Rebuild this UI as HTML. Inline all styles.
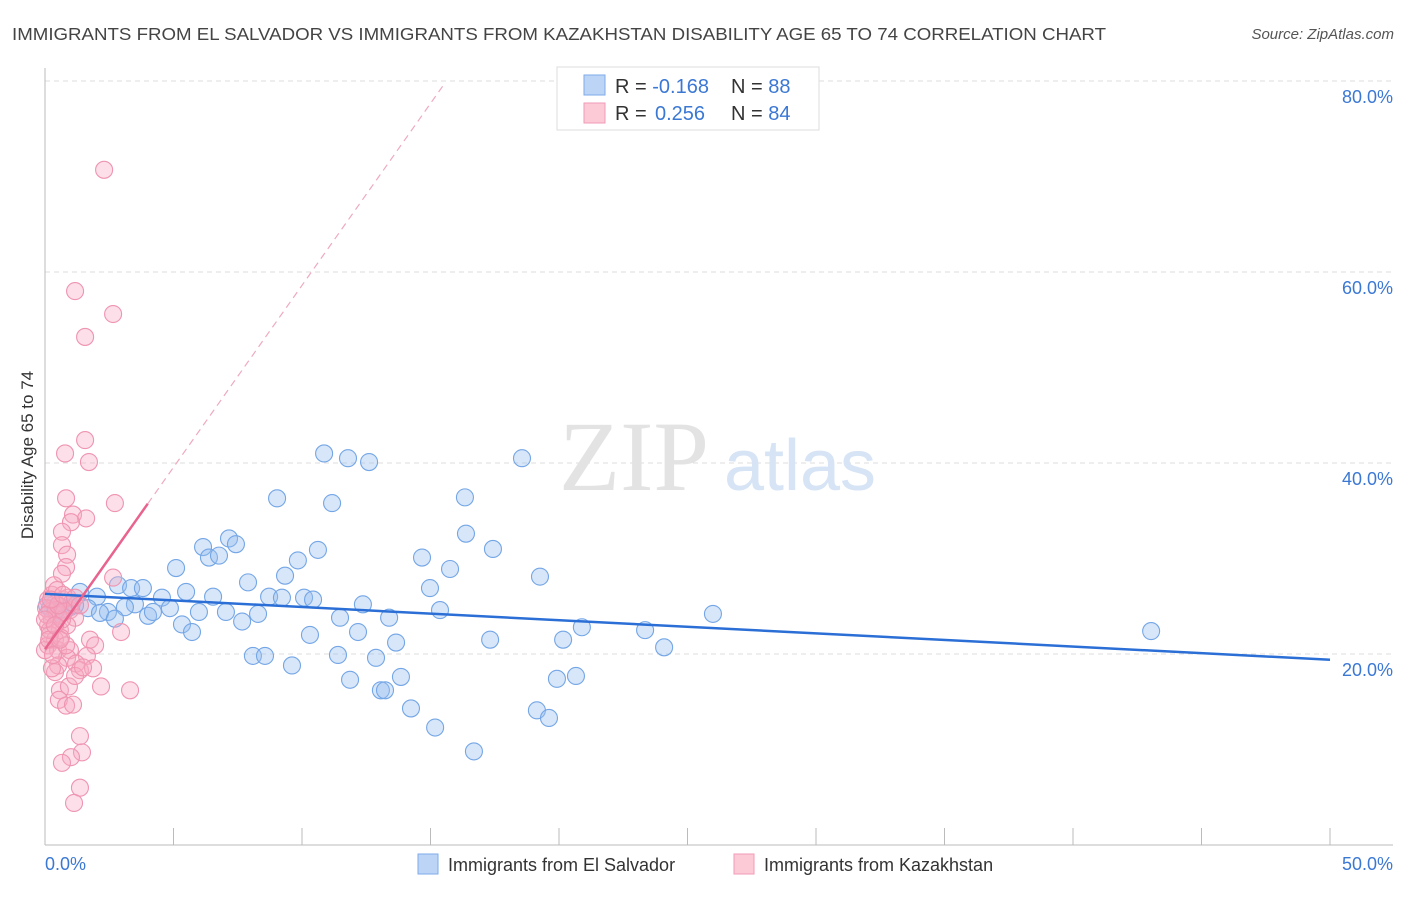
<!DOCTYPE html>
<html><head><meta charset="utf-8"><style>
body{margin:0;background:#fff;font-family:"Liberation Sans",sans-serif;}
</style></head><body>
<svg id="c" width="1406" height="892" xmlns="http://www.w3.org/2000/svg" style="font-family:'Liberation Sans',sans-serif">
<text x="12" y="40" font-size="17.5" fill="#444" textLength="1094" lengthAdjust="spacingAndGlyphs">IMMIGRANTS FROM EL SALVADOR VS IMMIGRANTS FROM KAZAKHSTAN DISABILITY AGE 65 TO 74 CORRELATION CHART</text>
<text x="1394" y="39" font-size="15" fill="#555" font-style="italic" text-anchor="end">Source: ZipAtlas.com</text>
<g id="grid"></g>
<g>
<text x="634" y="490" font-size="100" fill="#e3e3e3" font-family="Liberation Serif,serif" text-anchor="middle">ZIP</text>
<text x="800" y="490" font-size="72" fill="#d6e4f5" text-anchor="middle">atlas</text>
</g>
<g id="pts"></g>
<g id="lines"></g>
<text transform="translate(33,455) rotate(-90)" font-size="17" fill="#333" text-anchor="middle">Disability Age 65 to 74</text>
<text x="45" y="870" font-size="18" fill="#3b78d4">0.0%</text>
<text x="1393" y="870" font-size="18" fill="#3b78d4" text-anchor="end">50.0%</text>
<g>
<rect x="557" y="67" width="262" height="63" fill="#fff" stroke="#ddd"/>
<rect x="584" y="75" width="21" height="20" fill="#bcd5f7" stroke="#7eaae8"/>
<rect x="584" y="103" width="21" height="20" fill="#fcc9d7" stroke="#f09ab4"/>
<text x="615" y="93" font-size="20" fill="#333">R = <tspan fill="#3b78d4">-0.168</tspan><tspan x="731">N = </tspan><tspan fill="#3b78d4">88</tspan></text>
<text x="615" y="120" font-size="20" fill="#333">R = <tspan x="655" fill="#3b78d4">0.256</tspan><tspan x="731">N = </tspan><tspan fill="#3b78d4">84</tspan></text>
</g>
<g>
<rect x="418" y="854" width="20" height="20" fill="#bcd5f7" stroke="#7eaae8"/>
<text x="448" y="871" font-size="18" fill="#333">Immigrants from El Salvador</text>
<rect x="734" y="854" width="20" height="20" fill="#fcc9d7" stroke="#f09ab4"/>
<text x="764" y="871" font-size="18" fill="#333">Immigrants from Kazakhstan</text>
</g>
</svg>
<script>
const yTicks=[20,40,60,80];
const xTickCount=10;
const blue=[[10.86,41.0],[11.79,40.5],[12.61,40.1],[18.56,40.5],[9.03,36.3],[11.17,35.8],[16.34,36.4],[16.38,32.6],[17.43,31.0],[7.16,32.1],[7.43,31.5],[6.15,31.2],[6.38,30.1],[6.77,30.3],[10.62,30.9],[9.84,29.8],[14.67,30.1],[15.76,28.9],[19.26,28.1],[5.10,29.0],[9.34,28.2],[7.90,27.5],[2.84,27.2],[3.35,26.9],[3.81,26.9],[5.49,26.5],[1.36,26.5],[2.02,26.0],[6.54,26.0],[8.72,26.0],[9.22,25.9],[10.08,25.9],[10.43,25.7],[14.98,26.9],[4.55,25.9],[3.50,25.2],[3.11,24.9],[2.45,24.4],[1.67,24.8],[2.14,24.3],[2.72,23.7],[4.01,24.0],[4.20,24.4],[4.86,24.8],[5.99,24.4],[7.04,24.4],[8.29,24.2],[11.48,23.8],[13.39,23.8],[12.37,25.2],[15.37,24.6],[25.99,24.2],[5.33,23.1],[5.72,22.3],[7.67,23.4],[10.31,22.0],[12.18,22.3],[13.66,21.2],[17.32,21.5],[20.16,21.5],[20.89,22.8],[23.35,22.5],[24.09,20.7],[43.04,22.4],[8.09,19.8],[8.56,19.8],[9.61,18.8],[11.40,19.9],[12.88,19.6],[11.87,17.3],[13.07,16.2],[13.23,16.2],[13.85,17.6],[14.24,14.3],[15.18,12.3],[16.69,9.8],[19.14,14.1],[19.61,13.3],[19.92,17.4],[20.66,17.7],[0.58,25.0],[0.97,24.9],[0.19,24.8],[0.39,24.4],[0.78,24.6],[1.17,25.1],[0.51,24.0],[0.08,25.1]];
const pink=[[2.30,70.7],[1.17,58.0],[2.65,55.6],[1.56,53.2],[1.56,42.4],[0.78,41.0],[1.71,40.1],[0.82,36.3],[2.72,35.8],[1.09,34.6],[1.60,34.2],[1.01,33.8],[0.66,32.8],[0.66,31.4],[0.86,30.4],[0.82,29.1],[0.66,28.4],[2.65,28.0],[2.96,22.3],[0.70,25.7],[0.39,25.3],[0.97,24.6],[0.19,24.4],[0.51,24.1],[1.17,23.8],[0.27,23.6],[0.12,23.0],[0.58,22.5],[0.86,23.0],[0.19,22.0],[0.39,21.5],[0.12,20.9],[0.51,20.4],[0.97,20.4],[1.75,21.5],[1.95,20.9],[0.86,19.6],[1.63,19.8],[1.21,19.0],[1.36,18.3],[0.51,18.8],[0.39,18.1],[0.27,18.5],[1.87,18.5],[0.58,16.2],[0.93,16.6],[1.17,17.7],[1.48,18.6],[2.18,16.6],[3.31,16.2],[0.54,15.2],[0.82,14.6],[1.09,14.7],[1.36,11.4],[1.44,9.7],[1.01,9.2],[0.66,8.6],[1.36,6.0],[1.13,4.4],[0.12,25.7],[0.27,26.2],[0.04,24.8],[0.19,22.5],[0.0,20.4],[0.43,24.6],[0.66,23.6],[0.35,27.2],[0.47,26.7],[0.74,24.4],[0.89,25.9],[1.05,25.4],[0.16,21.5],[0.31,19.9],[0.62,21.7],[0.82,20.9],[0.08,24.1],[0.51,25.1],[0.23,25.7],[0.70,26.2],[0.0,23.6],[0.39,23.0],[0.58,21.5],[1.17,25.9],[1.36,25.1]];
const blueTrend=[26.3,19.4];
const pinkTrend=[20.5,3.81];
const pinkSolidEnd=4.0, pinkDashEnd=15.5;
const NS='http://www.w3.org/2000/svg';
const X=v=>45+v/50*1285;
const Y=v=>845-v/20*191;
function mk(tag,attrs,parent){const e=document.createElementNS(NS,tag);for(const k in attrs)e.setAttribute(k,attrs[k]);parent.appendChild(e);return e;}
const grid=document.getElementById('grid');
yTicks.forEach(t=>{
 const l=mk('line',{x1:45,x2:1393,y1:Y(t),y2:Y(t),stroke:'#ddd','stroke-dasharray':'5,4'},grid);
 
 
 const tx=mk('text',{x:1393,y:Y(t)+22,'font-size':18,fill:'#3b78d4','text-anchor':'end'},grid);
 tx.textContent=t.toFixed(1)+'%';
 
 
});
const ax=mk('line',{x1:45,x2:45,y1:68,y2:845,stroke:'#bbb'},grid);


const bx=mk('line',{x1:45,x2:1393,y1:845,y2:845,stroke:'#bbb'},grid);


for(let i=0;i<=xTickCount;i++){
 const t=mk('line',{x1:X(i*5),x2:X(i*5),y1:828,y2:845,stroke:'#bbb'},grid);
 
 
}
const pts=document.getElementById('pts');
blue.forEach(p=>{
 const c=mk('circle',{cx:X(p[0]),cy:Y(p[1]),r:8.5,fill:'rgba(150,190,240,0.38)',stroke:'#74a6e6','stroke-width':1.1},pts);
 
 
});
pink.forEach(p=>{
 const c=mk('circle',{cx:X(p[0]),cy:Y(p[1]),r:8.5,fill:'rgba(248,170,195,0.38)',stroke:'#ef94b1','stroke-width':1.1},pts);
 
 
});
const lines=document.getElementById('lines');
const bl=mk('line',{x1:X(0),y1:Y(blueTrend[0]),x2:X(50),y2:Y(blueTrend[1]),stroke:'#2b6fd6','stroke-width':2.5},lines);


const pf=x=>pinkTrend[0]+pinkTrend[1]*x;
const ps=mk('line',{x1:X(0),y1:Y(pf(0)),x2:X(pinkSolidEnd),y2:Y(pf(pinkSolidEnd)),stroke:'#e8638e','stroke-width':2.5},lines);


const pd=mk('line',{x1:X(pinkSolidEnd),y1:Y(pf(pinkSolidEnd)),x2:X(pinkDashEnd),y2:Y(pf(pinkDashEnd)),stroke:'#eeaabf','stroke-width':1.2,'stroke-dasharray':'7,5'},lines);


</script>
</body></html>
